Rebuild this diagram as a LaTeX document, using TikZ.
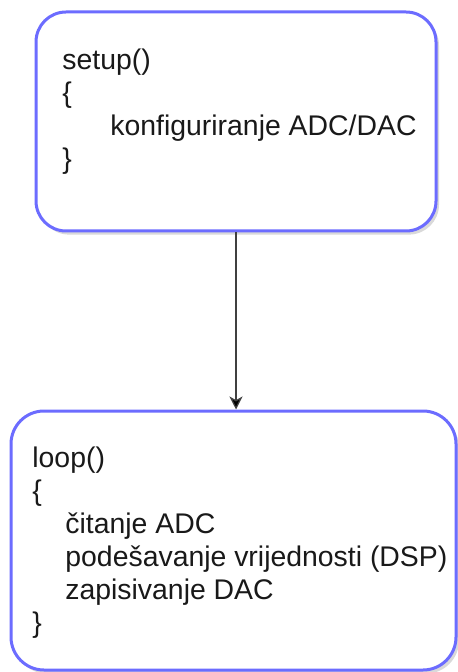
\documentclass[tikz,border=0pt]{standalone}
\usepackage{fontspec}
\setmainfont{Liberation Sans}
\usetikzlibrary{arrows.meta,shadows}
\definecolor{rub}{RGB}{108,108,255}
\tikzset{
  blok/.style={draw=rub,line width=1.5pt,fill=white,rounded corners=#1,
    drop shadow={shadow xshift=1.5pt,shadow yshift=-1.8pt,opacity=0.3}},
  kod/.style={anchor=north west,inner sep=0pt,align=left,
    font=\fontsize{14.2}{16.5}\selectfont,text=black!90},
  strelica/.style={draw=black!75,line width=0.6pt,
    -{Stealth[length=6.5pt,width=6.5pt,inset=1.8pt,fill=black]}}
}
\begin{document}
\begin{tikzpicture}[x=0.5pt,y=-0.5pt]
    \useasboundingbox (0,0) rectangle (458,672);
    \node[blok=15pt,minimum width=200pt,minimum height=109.5pt] (setup) at (236,121.5) {};
    \node[blok=16.5pt,minimum width=222.5pt,minimum height=129.5pt] (loop) at (233.5,540.5) {};

    \node[kod] (setupkod) at (62,49) {setup()\\\{\\\hspace{24pt}konfiguriranje ADC/DAC\\\}};
    \node[kod] (loopkod) at (32,447) {loop()\\\{\\\hspace{16.5pt}čitanje ADC\\\hspace{16.5pt}podešavanje vrijednosti (DSP)\\\hspace{16.5pt}zapisivanje DAC\\\}};

    \path[strelica] (setup.south) -- (setup.south |- loop.north);
\end{tikzpicture}
\end{document}
